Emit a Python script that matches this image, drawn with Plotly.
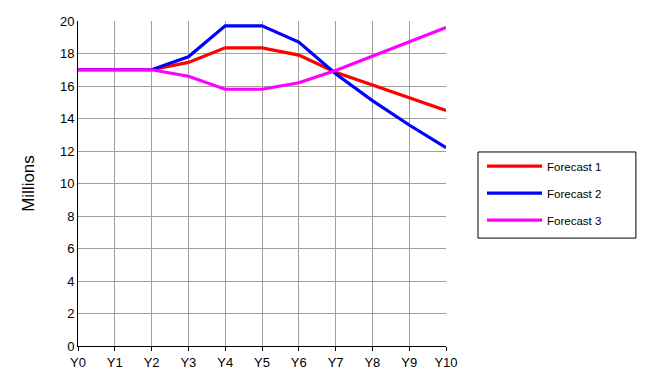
import plotly.graph_objects as go

years = ["Y0", "Y1", "Y2", "Y3", "Y4", "Y5", "Y6", "Y7", "Y8", "Y9", "Y10"]
forecast1 = [17.0, 17.0, 17.0, 17.45, 18.35, 18.35, 17.9, 16.85, 16.05, 15.3, 14.5]
forecast2 = [17.0, 17.0, 17.0, 17.8, 19.7, 19.7, 18.7, 16.75, 15.1, 13.6, 12.2]
forecast3 = [17.0, 17.0, 17.0, 16.6, 15.8, 15.8, 16.2, 16.95, 17.85, 18.7, 19.6]
series = [("Forecast 1", forecast1, "#ff0000"),
          ("Forecast 2", forecast2, "#0000ff"),
          ("Forecast 3", forecast3, "#ff00ff")]

fig = go.Figure()
for i, (name, vals, col) in enumerate(series):
    fig.add_trace(go.Scatter(x=list(range(len(years))), y=vals, mode="lines", name=name,
                             legendgroup=f"g{i}",
                             line=dict(color=col, width=3.2)))

fig.update_layout(
    width=646, height=391,
    margin=dict(l=78, r=200, t=21, b=45),
    paper_bgcolor="white", plot_bgcolor="white",
    font=dict(family="Liberation Sans, Arial, sans-serif", color="black", size=13),
    showlegend=True,
    legend=dict(x=1.0978, y=0.598, xanchor="left", yanchor="top",
                borderwidth=0, bgcolor="rgba(0,0,0,0)",
                font=dict(size=11.5), itemwidth=55, tracegroupgap=8),
    shapes=[dict(type="rect", xref="paper", yref="paper",
                 x0=1.087, x1=1.516, y0=0.332, y1=0.597,
                 line=dict(color="black", width=1), fillcolor="rgba(0,0,0,0)", layer="below")],
    xaxis=dict(range=[0, 10], tickmode="array", tickvals=list(range(len(years))),
               ticktext=years, showgrid=True, gridcolor="#a0a0a0", gridwidth=1,
               showline=True, linecolor="black", linewidth=1,
               ticks="outside", ticklen=4, tickcolor="black", zeroline=False,
               automargin=False, fixedrange=True),
    yaxis=dict(range=[0, 20], dtick=2, showgrid=True, gridcolor="#a0a0a0", gridwidth=1,
               showline=True, linecolor="black", linewidth=1, ticks="", zeroline=False,
               automargin=False, fixedrange=True,
               title=dict(text="Millions", font=dict(size=17), standoff=20)),
)
fig.write_html("out.html", config={"displayModeBar": False},
               post_script="document.body.style.margin='0';")
